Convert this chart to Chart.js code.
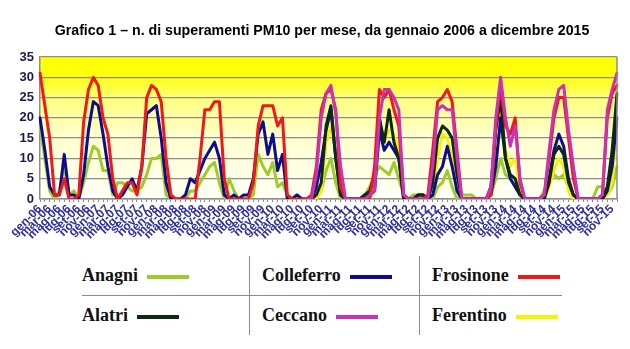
<!DOCTYPE html>
<html>
<head>
<meta charset="utf-8">
<script src="https://cdn.jsdelivr.net/npm/chart.js@4.4.0/dist/chart.umd.min.js"></script>
<style>
body{margin:0;background:#fff;width:630px;height:349px;overflow:hidden;position:relative;}
#chart{position:absolute;left:0;top:0;}
#titolo{position:absolute;left:0;top:22px;width:644px;text-align:center;font:bold 14.2px Arial,"Liberation Sans",sans-serif;color:#000;white-space:nowrap;}
#key{position:absolute;left:82px;top:256px;border-collapse:collapse;font:bold 18px "Liberation Serif","Times New Roman",serif;color:#111;}
#key td{height:39px;padding:0 0 0 12px;white-space:nowrap;}
#key td:first-child{padding-left:0;width:167px;}
#key td:nth-child(2){width:157px;}
#key td:nth-child(3){width:130px;}
#key tr:first-child td{border-bottom:1.5px solid #8c8c8c;}
#key td+td{border-left:1.5px solid #8c8c8c;}
#key i{display:inline-block;width:42px;height:4px;margin-left:9px;vertical-align:middle;}
</style>
</head>
<body>
<canvas id="chart" width="630" height="252"></canvas>
<div id="titolo">Grafico 1 &ndash; n. di superamenti PM10 per mese, da gennaio 2006 a dicembre 2015</div>
<table id="key"></table>
<script>
// mesi e anni per le etichette dell'asse x
const mesi = ['gen','feb','mar','apr','mag','giu','lug','ago','set','ott','nov','dic'];
const anni = ['06','07','08','09','10','11','12','13','14','15'];

// superamenti PM10 per mese, una riga per anno (2006 ... 2015)
const anagni = [
  18,10, 2, 0, 2, 8, 1, 2, 0, 4, 9,13,
  12, 7, 7, 1, 4, 4, 3, 2, 2, 3, 6,10,
  10,11, 1, 0, 0, 0, 0, 2, 2, 4, 6, 8,
   9, 4, 0, 5, 2, 0, 0, 0, 1,11, 8, 6,
   9, 3, 4, 1, 0, 1, 0, 0, 0, 0, 2, 7,
  10, 4, 0, 0, 0, 0, 0, 1, 3, 6, 8, 7,
   6, 9, 5, 1, 0, 1, 1, 1, 0, 0, 3, 4,
   7, 3, 0, 1, 1, 1, 0, 0, 0, 1, 5,10,
   6, 5, 3, 1, 0, 0, 0, 0, 2, 4, 6, 5,
   6, 3, 0, 0, 0, 0, 0, 3, 3, 1, 3, 8
];
const colleferro = [
  20,12, 3, 1, 1,11, 1, 1, 0, 6,17,24,
  23,16, 8, 2, 0, 1, 3, 5, 2, 8,21,22,
  23,15, 4, 0, 0, 0, 1, 5, 4, 7,10,12,
  14,10, 1, 0, 1, 0, 1, 1, 5,16,19,11,
  16, 7,11, 0, 0, 1, 0, 0, 0, 3, 9,17,
  22,10, 1, 0, 0, 0, 0, 1, 1, 2,17,12,
  14,12,10, 0, 0, 0, 1, 1, 0, 1, 6, 8,
  13, 8, 2, 0, 0, 0, 0, 0, 0, 1, 8,20,
  10, 5, 3, 1, 0, 0, 0, 0, 1, 5,12,16,
  13, 5, 1, 0, 0, 0, 0, 0, 0, 2, 8,20
];
const frosinone = [
  31,23,15, 1, 1, 5, 0, 0, 1,19,27,30,
  28,20,16, 5, 0, 2, 4, 4, 1, 8,25,28,
  27,24,10, 1, 0, 0, 0, 0, 0,10,22,22,
  24,24, 5, 0, 0, 0, 0, 0, 4,18,23,23,
  23,18,20, 1, 0, 0, 0, 0, 1, 8,22,26,
  27,22, 3, 0, 0, 0, 0, 0, 0, 8,27,25,
  27,22,18, 1, 0, 0, 0, 0, 1,12,24,25,
  27,24,12, 0, 0, 0, 0, 0, 0, 1,18,28,
  18,16,20, 4, 0, 0, 0, 0, 1,10,20,25,
  25,15, 5, 0, 0, 0, 0, 0, 1,20,26,28
];
const alatri = [
  null,null,null,null,null,null,null,null,null,null,null,null,
  null,null,null,null,null,null,null,null,null,null,null,null,
  null,null,null,null,null,null,null,null,null,null,null,null,
  null,null,null,null,null,null,null,null,null,null,null,null,
  null,null,null,null,null,null,null, 0, 0, 1, 4,18,
  23,10, 1, 0, 0, 0, 0, 1, 2, 6,20,14,
  22,14,10, 0, 0, 0, 1, 1, 0, 4,15,18,
  17,15, 6, 0, 0, 0, 0, 0, 0, 3,17,25,
  10, 6, 5, 1, 0, 0, 0, 0, 0, 4,11,13,
  11, 4, 1, 0, 0, 0, 0, 0, 0, 3,12,26
];
const ceccano = [
  null,null,null,null,null,null,null,null,null,null,null,null,
  null,null,null,null,null,null,null,null,null,null,null,null,
  null,null,null,null,null,null,null,null,null,null,null,null,
  null,null,null,null,null,null,null,null,null,null,null,null,
  null,null,null,null,null,null,null, 0, 0, 6,20,26,
  28,21, 8, 0, 0, 0, 0, 0, 1, 2,20,27,
  27,25,22, 1, 0, 0, 0, 0, 0, 8,22,23,
  22,22,10, 0, 0, 0, 0, 0, 0, 3,20,30,
  20,13,18, 5, 0, 0, 0, 0, 1,12,22,27,
  28,17, 8, 0, 0, 0, 0, 0, 1,22,27,31
];
const ferentino = [
  null,null,null,null,null,null,null,null,null,null,null,null,
  null,null,null,null,null,null,null,null,null,null,null,null,
  null,null,null,null,null,null,null,null,null,null,null,null,
  null,null,null,null,null,null,null,null,null,null,null,null,
  null,null,null,null,null,null,null, 0, 0, 0, 2,14,
  18,11, 2, 0, 0, 0, 0, 0, 0, 2,16,14,
  17,16,12, 1, 0, 0, 0, 0, 0, 2,10,16,
  15,10, 3, 0, 0, 0, 0, 0, 0, 1,10,18,
  12, 8,10, 3, 0, 0, 0, 0, 0, 3, 7,10,
   8, 2, 0, 0, 0, 0, 0, 0, 0, 1, 4,18
];

const yTicks = [0, 5, 10, 15, 20, 25, 30, 35];

let labels = [];
for (let a of anni) {
    for (let m of mesi) {
        labels.push(m + '-' + a);
    }
}

// stazioni: nome, serie, colore, ordine di disegno (1 = sopra)
const stazioni = [
    {nome: 'Anagni',     dati: anagni,     colore: '#9ccc2c', ordine: 6},
    {nome: 'Colleferro', dati: colleferro, colore: '#0c0c8c', ordine: 4},
    {nome: 'Frosinone',  dati: frosinone,  colore: '#f01818', ordine: 2},
    {nome: 'Alatri',     dati: alatri,     colore: '#0c2a10', ordine: 3},
    {nome: 'Ceccano',    dati: ceccano,    colore: '#c832b8', ordine: 1},
    {nome: 'Ferentino',  dati: ferentino,  colore: '#f4f400', ordine: 5}
];

// sfondo giallo sfumato dell'area del grafico
const sfondo = {
    id: 'sfondo',
    beforeDraw(chart) {
        const ctx = chart.ctx;
        const a = chart.chartArea;
        const g = ctx.createLinearGradient(0, a.top, 0, a.bottom);
        g.addColorStop(0, '#ffff00');
        g.addColorStop(0.14, '#ffff10');
        g.addColorStop(0.3, '#ffff80');
        g.addColorStop(0.55, '#ffffcc');
        g.addColorStop(1, '#fffff6');
        ctx.save();
        ctx.fillStyle = g;
        ctx.fillRect(a.left, a.top, a.right - a.left, a.bottom - a.top);
        ctx.restore();
    },
    afterDatasetsDraw(chart) {
        const ctx = chart.ctx;
        const a = chart.chartArea;
        ctx.save();
        ctx.strokeStyle = '#8c8c8c';
        ctx.lineWidth = 1.5;
        ctx.beginPath();
        ctx.moveTo(a.right, a.top);
        ctx.lineTo(a.right, a.bottom);
        ctx.stroke();
        ctx.restore();
    }
};

const ctx = document.getElementById('chart').getContext('2d');
const grafico = new Chart(ctx, {
    type: 'line',
    data: {
        labels: labels,
        datasets: stazioni.map(s => ({
            label: s.nome,
            data: s.dati,
            borderColor: s.colore,
            backgroundColor: s.colore,
            borderWidth: 3,
            pointRadius: 0,
            tension: 0,
            borderJoinStyle: 'round',
            borderCapStyle: 'round',
            spanGaps: false,
            order: s.ordine
        }))
    },
    options: {
        responsive: false,
        animation: false,
        layout: {
            // spazio sopra per il titolo html
            padding: {left: 0, right: 13, top: 57, bottom: 0}
        },
        plugins: {
            legend: {display: false},
            tooltip: {enabled: false},
            title: {display: false}
        },
        scales: {
            x: {
                offset: false,
                grid: {display: true, drawOnChartArea: false, color: '#8c8c8c', tickLength: 3},
                border: {color: '#8c8c8c', width: 1.5},
                ticks: {
                    autoSkip: false,
                    minRotation: 45,
                    maxRotation: 45,
                    padding: 0,
                    color: '#30309a',
                    font: {family: 'Arial', size: 12, weight: 'bold'},
                    callback: (v, i) => (i % 2 ? '' : labels[i])
                },
                afterFit: s => { s.height = 53; }
            },
            y: {
                min: yTicks[0],
                max: yTicks[yTicks.length - 1],
                afterBuildTicks: s => { s.ticks = yTicks.map(v => ({value: v})); },
                ticks: {
                    color: '#1a1a4a',
                    font: {family: 'Arial', size: 13, weight: 'bold'},
                    padding: 6
                },
                grid: {color: '#8c8c8c', lineWidth: 1.3, tickLength: 0},
                border: {color: '#8c8c8c', width: 1.5},
                afterFit: s => { s.width = 40; }
            }
        }
    },
    plugins: [sfondo]
});

// tabella della legenda, due righe da tre stazioni
const key = document.getElementById('key');
const righe = [['Anagni', 'Colleferro', 'Frosinone'], ['Alatri', 'Ceccano', 'Ferentino']];
for (let riga of righe) {
    let tr = document.createElement('tr');
    for (let nome of riga) {
        let s = stazioni.find(x => x.nome == nome);
        let td = document.createElement('td');
        td.textContent = s.nome;
        let linea = document.createElement('i');
        linea.style.background = s.colore;
        td.appendChild(linea);
        tr.appendChild(td);
    }
    key.appendChild(tr);
}
</script>
</body>
</html>
